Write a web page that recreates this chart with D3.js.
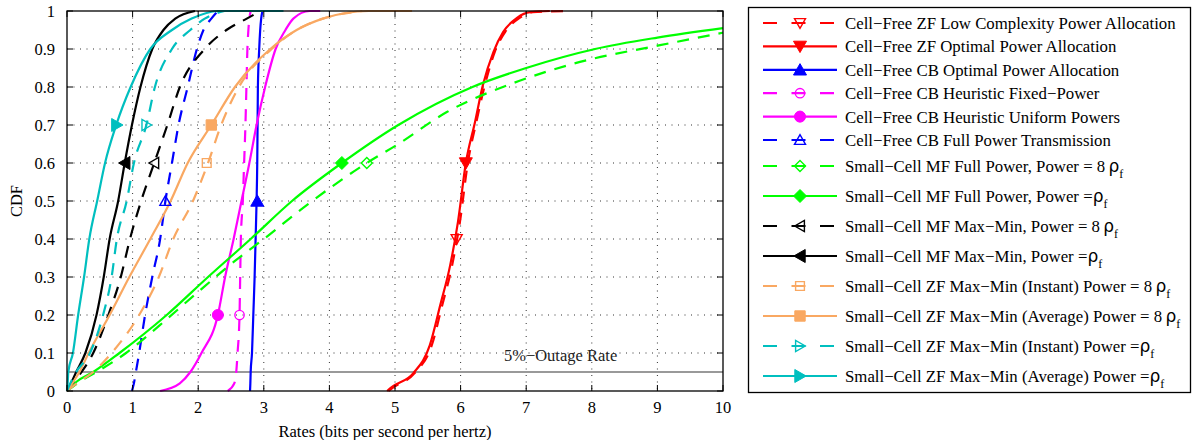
<!DOCTYPE html>
<html><head><meta charset="utf-8">
<script src="https://cdn.jsdelivr.net/npm/d3@7"></script>
<style>
body{margin:0;background:#fff;}
svg text{font-family:"Liberation Serif","Times New Roman",serif;}
</style></head>
<body><svg id="chart" width="1193" height="440"></svg>
<script>
// ---- data ----
const xTicks = [0,1,2,3,4,5,6,7,8,9,10];
const yTicks = [0,0.1,0.2,0.3,0.4,0.5,0.6,0.7,0.8,0.9,1];
const yTickLabels = ["0","0.1","0.2","0.3","0.4","0.5","0.6","0.7","0.8","0.9","1"];
const cdfLevels = [0,0.02,0.05,0.1,0.2,0.3,0.4,0.5,0.6,0.7,0.8,0.9,0.95,0.98,1];
const cdfLevelsTail = [0,0.02,0.05,0.1,0.2,0.3,0.4,0.5,0.6,0.7,0.8,0.9,0.95,0.98,1,1];
const redCdf = [0,0.01,0.047,0.12,0.226,0.33,0.445,0.6,0.708,0.805,0.892,0.945,0.982,0.997,1];

const cfZfLowRates = [4.9,4.98,5.3,5.56,5.72,5.87,5.99,6.11,6.24,6.37,6.52,6.68,6.9,7.1,7.64];
const cfZfOptRates = [4.88,4.95,5.28,5.53,5.69,5.84,5.96,6.08,6.22,6.34,6.5,6.65,6.86,7.06,7.36];
const cfCbOptRates = [2.79,2.795,2.8,2.82,2.84,2.86,2.875,2.89,2.9,2.905,2.91,2.93,2.945,2.96,2.98];
const cfCbFixedRates = [2.45,2.55,2.58,2.6,2.63,2.64,2.65,2.68,2.7,2.72,2.735,2.75,2.765,2.78,2.8];
const cfCbUniformRates = [1.42,1.72,1.88,2.05,2.3,2.41,2.54,2.66,2.78,2.89,3.02,3.18,3.33,3.45,3.7,3.86];
const cfCbFullRates = [0.99,1.02,1.05,1.1,1.19,1.3,1.42,1.5,1.6,1.7,1.84,1.98,2.08,2.2,2.3];
const scMfFull8Cdf = [0,0.025,0.055,0.1,0.174,0.258,0.345,0.4,0.49,0.6,0.65,0.734,0.81,0.866,0.91,0.943];
const scMfFull8Rates = [0,0.2,0.5,0.9,1.42,1.98,2.58,3.0,3.66,4.57,5.05,5.79,6.8,7.82,9.04,10];
const scMfFullCdf = [0,0.025,0.05,0.1,0.2,0.3,0.4,0.5,0.6,0.7,0.8,0.85,0.9,0.93,0.955];
const scMfFullRates = [0,0.15,0.4,0.8,1.52,2.15,2.8,3.43,4.19,5.05,6.18,7.0,8.05,9.0,10];
const scMfMaxMin8Rates = [0,0.08,0.22,0.4,0.63,0.82,0.96,1.13,1.33,1.53,1.72,2.1,2.43,2.74,2.95];
const scMfMaxMinRates = [0,0.06,0.14,0.28,0.45,0.56,0.65,0.78,0.88,0.99,1.12,1.3,1.47,1.65,1.95];
const scZfInst8Rates = [0,0.15,0.4,0.68,1.1,1.4,1.62,1.92,2.15,2.35,2.62,3.12,3.5,3.9,4.5];
const scZfAvg8Rates = [0,0.08,0.19,0.33,0.65,0.95,1.27,1.58,1.84,2.2,2.56,3.1,3.5,3.9,4.6,5.26];
const scZfInstRates = [0,0.05,0.14,0.35,0.55,0.68,0.76,0.91,1.02,1.21,1.34,1.6,1.88,2.1,2.4];
const scZfAvgRates = [0,0.01,0.02,0.09,0.17,0.26,0.34,0.46,0.58,0.75,0.97,1.27,1.6,1.9,2.3,3.3];

const seriesLabels = [
 "Cell\u2212Free ZF Low Complexity Power Allocation",
 "Cell\u2212Free ZF Optimal Power Allocation",
 "Cell\u2212Free CB Optimal Power Allocation",
 "Cell\u2212Free CB Heuristic Fixed\u2212Power",
 "Cell\u2212Free CB Heuristic Uniform Powers",
 "Cell\u2212Free CB Full Power Transmission",
 "Small\u2212Cell MF Full Power, Power = 8\u2009\u03c1_f",
 "Small\u2212Cell MF Full Power, Power =\u03c1_f",
 "Small\u2212Cell MF Max\u2212Min, Power = 8\u2009\u03c1_f",
 "Small\u2212Cell MF Max\u2212Min, Power =\u03c1_f",
 "Small\u2212Cell ZF Max\u2212Min (Instant) Power = 8\u2009\u03c1_f",
 "Small\u2212Cell ZF Max\u2212Min (Average) Power = 8\u2009\u03c1_f",
 "Small\u2212Cell ZF Max\u2212Min (Instant) Power =\u03c1_f",
 "Small\u2212Cell ZF Max\u2212Min (Average) Power =\u03c1_f"
];
const seriesRates = [cfZfLowRates,cfZfOptRates,cfCbOptRates,cfCbFixedRates,cfCbUniformRates,cfCbFullRates,
  scMfFull8Rates,scMfFullRates,scMfMaxMin8Rates,scMfMaxMinRates,scZfInst8Rates,scZfAvg8Rates,scZfInstRates,scZfAvgRates];
const seriesCdf = [redCdf,redCdf,cdfLevels,cdfLevels,cdfLevelsTail,cdfLevels,
  scMfFull8Cdf,scMfFullCdf,cdfLevels,cdfLevels,cdfLevels,cdfLevelsTail,cdfLevels,cdfLevelsTail];
const seriesColors = ["#ff0000","#ff0000","#0000ff","#ff00ff","#ff00ff","#0000ff","#00ff00","#00ff00",
  "#000000","#000000","#f9a862","#f9a862","#00bfbf","#00bfbf"];
const seriesDashed = [true,false,false,true,false,true,true,false,true,false,true,false,true,false];
const seriesMarkers = ["triDown","triDown","triUp","circle","circle","triUp","diamond","diamond",
  "triLeft","triLeft","square","square","triRight","triRight"];
const markerFilled = [false,true,true,false,true,false,false,true,false,true,false,true,false,true];
const markerRates = [5.94,6.08,2.9,2.63,2.3,1.5,4.57,4.19,1.33,0.88,2.13,2.2,1.21,0.76];
const markerCdf = [0.4,0.6,0.5,0.2,0.2,0.5,0.6,0.6,0.6,0.6,0.6,0.7,0.7,0.7];
const outageLevel = 0.05;
const outageLabel = "5%\u2212Outage Rate";
const outageLabelPos = [6.66, 0.079];

// ---- layout ----
const svg = d3.select("#chart");
const L = 67, T = 11, W = 656, H = 380;
const x = d3.scaleLinear().domain([0,10]).range([L, L+W]);
const y = d3.scaleLinear().domain([0,1]).range([T+H, T]);
const FONT = 16.5;
const LFONT = 16.8;

// grid
const g = svg.append("g");
g.selectAll(".gx").data(xTicks.slice(1,-1)).enter().append("line")
  .attr("x1",d=>x(d)).attr("x2",d=>x(d)).attr("y1",T).attr("y2",T+H)
  .attr("stroke","#333").attr("stroke-width",1).attr("stroke-dasharray","1,5.5");
g.selectAll(".gy").data(yTicks.slice(1,-1)).enter().append("line")
  .attr("y1",d=>y(d)).attr("y2",d=>y(d)).attr("x1",L).attr("x2",L+W)
  .attr("stroke","#333").attr("stroke-width",1).attr("stroke-dasharray","1,5.5");

// outage line
svg.append("line").attr("x1",x(0)).attr("x2",x(10)).attr("y1",y(outageLevel)).attr("y2",y(outageLevel))
  .attr("stroke","#777").attr("stroke-width",1.3);
svg.append("text").attr("x",x(outageLabelPos[0])).attr("y",y(outageLabelPos[1]))
  .attr("font-size",FONT).attr("fill","#222").text(outageLabel);

// clip
svg.append("clipPath").attr("id","clip").append("rect").attr("x",L-2).attr("y",T-2).attr("width",W+4).attr("height",H+4);

// curves
const line = d3.line().x(d=>x(d[0])).y(d=>y(d[1])).curve(d3.curveMonotoneX);
const curves = svg.append("g").attr("clip-path","url(#clip)");
seriesRates.forEach((r,i)=>{
  const pts = r.map((v,j)=>[v, seriesCdf[i][j]]);
  curves.append("path").attr("d",line(pts)).attr("fill","none")
    .attr("stroke",seriesColors[i]).attr("stroke-width",2.2)
    .attr("stroke-linejoin","round")
    .attr("stroke-dasharray",seriesDashed[i]?"12,9":null);
});

// marker shapes
function markerPath(type, s){
  const r = s;
  switch(type){
    case "triDown": return `M${-r},${-r*0.8}L${r},${-r*0.8}L0,${r*0.95}Z`;
    case "triUp": return `M${-r},${r*0.8}L${r},${r*0.8}L0,${-r*0.95}Z`;
    case "triLeft": return `M${r*0.8},${-r}L${r*0.8},${r}L${-r*0.95},0Z`;
    case "triRight": return `M${-r*0.8},${-r}L${-r*0.8},${r}L${r*0.95},0Z`;
    case "diamond": return `M0,${-r}L${r},0L0,${r}L${-r},0Z`;
    case "square": { const q=r*0.8; return `M${-q},${-q}L${q},${-q}L${q},${q}L${-q},${q}Z`; }
    case "circle": return `M${r*0.85},0A${r*0.85},${r*0.85} 0 1,1 ${-r*0.85},0A${r*0.85},${r*0.85} 0 1,1 ${r*0.85},0Z`;
  }
}
function drawMarker(sel, i, cx, cy){
  sel.append("path").attr("d",markerPath(seriesMarkers[i], markerFilled[i]?6.5:5.5))
    .attr("transform",`translate(${cx},${cy})`)
    .attr("fill",markerFilled[i]?seriesColors[i]:"none")
    .attr("stroke",seriesColors[i]).attr("stroke-width",markerFilled[i]?1:1.4);
}
const mk = svg.append("g");
markerRates.forEach((m,i)=>drawMarker(mk,i,x(m),y(markerCdf[i])));

// axes box
svg.append("rect").attr("x",L).attr("y",T).attr("width",W).attr("height",H)
  .attr("fill","none").attr("stroke","#000").attr("stroke-width",1.3);
const ticks = svg.append("g").attr("stroke","#000").attr("stroke-width",1);
xTicks.forEach(t=>{
  ticks.append("line").attr("x1",x(t)).attr("x2",x(t)).attr("y1",T+H).attr("y2",T+H-6);
  ticks.append("line").attr("x1",x(t)).attr("x2",x(t)).attr("y1",T).attr("y2",T+6);
});
yTicks.forEach(t=>{
  ticks.append("line").attr("x1",L).attr("x2",L+6).attr("y1",y(t)).attr("y2",y(t));
  ticks.append("line").attr("x1",L+W).attr("x2",L+W-6).attr("y1",y(t)).attr("y2",y(t));
});
// tick labels
svg.selectAll(".xl").data(xTicks).enter().append("text")
  .attr("x",d=>x(d)).attr("y",T+H+22).attr("text-anchor","middle").attr("font-size",FONT).text(d=>d);
svg.selectAll(".yl").data(yTicks).enter().append("text")
  .attr("x",L-12).attr("y",d=>y(d)+5.5).attr("text-anchor","end").attr("font-size",FONT).text((d,i)=>yTickLabels[i]);
// axis titles
svg.append("text").attr("x",x(5)-10).attr("y",437).attr("text-anchor","middle").attr("font-size",FONT)
  .text("Rates (bits per second per hertz)");
svg.append("text").attr("transform",`translate(22,${T+H/2}) rotate(-90)`).attr("text-anchor","middle")
  .attr("font-size",FONT).text("CDF");

// legend
const lg = svg.append("g");
lg.append("rect").attr("x",748.5).attr("y",7.5).attr("width",442).attr("height",385)
  .attr("fill","#fff").attr("stroke","#000").attr("stroke-width",1.3);
seriesLabels.forEach((lab,i)=>{
  const cy = i<6 ? 23 + i*23.4 : 166 + (i-6)*30;
  lg.append("line").attr("x1",763).attr("x2",837).attr("y1",cy).attr("y2",cy)
    .attr("stroke",seriesColors[i]).attr("stroke-width",2.2)
    .attr("stroke-dasharray",seriesDashed[i]?"14,14.5":null);
  drawMarker(lg,i,800,cy);
  const parts = lab.split("\u03c1_f");
  const t = lg.append("text").attr("x",845).attr("y",cy+6).attr("font-size",LFONT);
  t.append("tspan").text(parts[0]);
  if(parts.length>1){
    t.append("tspan").attr("font-family","DejaVu Sans").attr("font-size",17).text("\u03c1");
    t.append("tspan").attr("font-size",12).attr("dy",6).text("f");
  }
});
</script></body></html>
